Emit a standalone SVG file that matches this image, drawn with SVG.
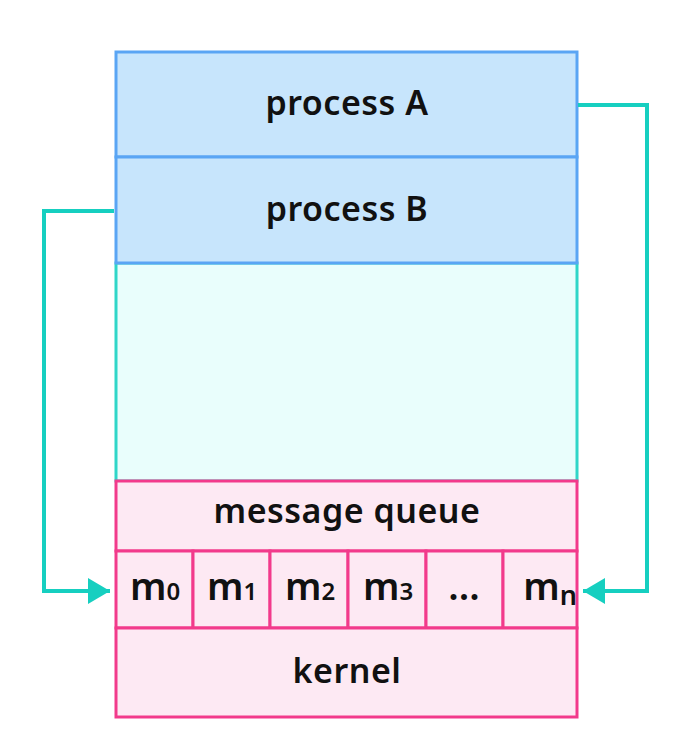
<svg xmlns="http://www.w3.org/2000/svg" width="681" height="750" viewBox="0 0 681 750">
<style>
.t{font-family:"Noto Sans","Open Sans",sans-serif;font-weight:600;font-size:34px;letter-spacing:0.5px;fill:#111;text-anchor:middle}
.m{font-size:38px;letter-spacing:0}
.s{font-size:24px}
.blue{fill:#c7e5fc;stroke:#5aa5f4;stroke-width:3}
.cyan{fill:#e9fefc;stroke:#2fd6c8;stroke-width:3}
.pink{fill:#fde9f3;stroke:#f23a8b;stroke-width:3}
.conn{fill:none;stroke:#16cfc0;stroke-width:4}
</style>
<defs>
<marker id="arr" markerUnits="userSpaceOnUse" markerWidth="24" markerHeight="26" refX="22" refY="13" orient="auto">
<path d="M0,0 L22,13 L0,26 Z" fill="#16cfc0"/>
</marker>
</defs>
<rect width="681" height="750" fill="#fff"/>
<g id="space">
<rect class="cyan" x="116" y="263" width="461" height="218"/>
</g>
<g id="processA">
<rect class="blue" x="116" y="52" width="461" height="105"/>
<text class="t" x="347" y="115">process A</text>
</g>
<g id="processB">
<rect class="blue" x="116" y="157" width="461" height="106"/>
<text class="t" x="347" y="221">process B</text>
</g>
<g id="mq">
<rect class="pink" x="116" y="481" width="461" height="70"/>
<text class="t" x="347" y="523">message queue</text>
</g>
<g id="cells">
<rect class="pink" x="116" y="551" width="77" height="77"/>
<rect class="pink" x="193" y="551" width="77" height="77"/>
<rect class="pink" x="270" y="551" width="78" height="77"/>
<rect class="pink" x="348" y="551" width="78" height="77"/>
<rect class="pink" x="426" y="551" width="77" height="77"/>
<rect class="pink" x="503" y="551" width="74" height="77"/>
<text class="t m" x="155" y="600">m<tspan class="s">0</tspan></text>
<text class="t m" x="232" y="600">m<tspan class="s">1</tspan></text>
<text class="t m" x="310" y="600">m<tspan class="s">2</tspan></text>
<text class="t m" x="388" y="600">m<tspan class="s">3</tspan></text>
<text class="t m" x="464" y="600">...</text>
<text class="t m" x="550" y="600">m<tspan style="font-size:27px" dy="5">n</tspan></text>
</g>
<g id="kernel">
<rect class="pink" x="116" y="628" width="461" height="89"/>
<text class="t" x="347" y="683">kernel</text>
</g>
<g id="connectors">
<path class="conn" d="M578,105 H647 V591 H583" marker-end="url(#arr)"/>
<path class="conn" d="M114,211 H44 V591 H110" marker-end="url(#arr)"/>
</g>
</svg>
